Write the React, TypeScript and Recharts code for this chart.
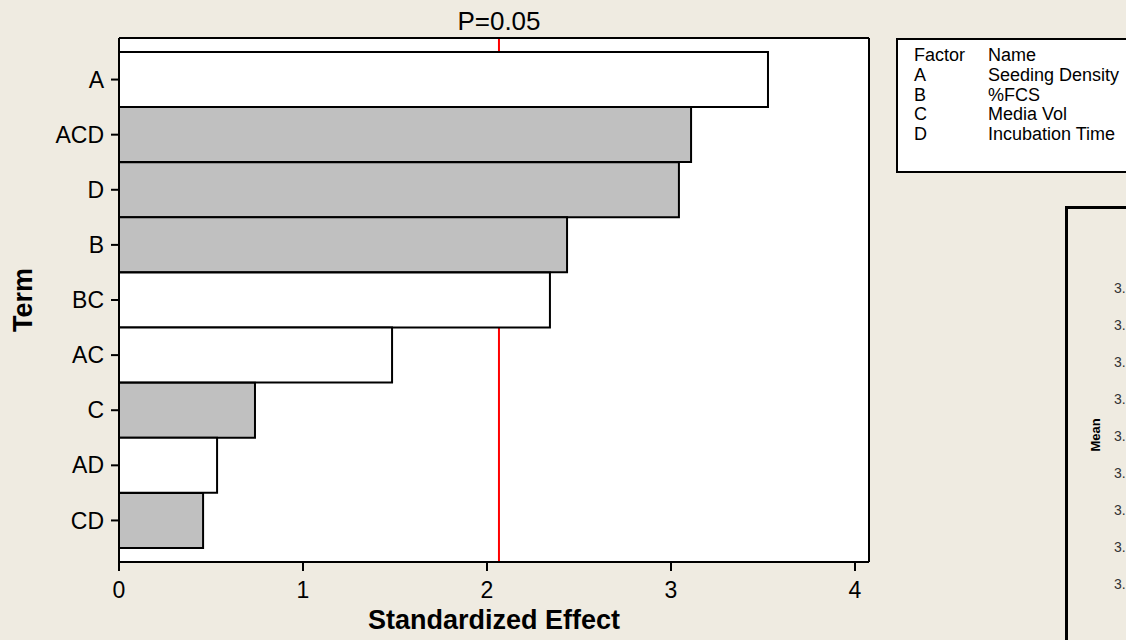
import { BarChart, Bar, XAxis, YAxis, CartesianGrid, ReferenceLine, Cell } from 'recharts';

// Pareto of standardized effects
const terms = ['A', 'ACD', 'D', 'B', 'BC', 'AC', 'C', 'AD', 'CD'];
const effects = [3.527, 3.109, 3.043, 2.435, 2.342, 1.484, 0.739, 0.533, 0.457];
// +1 / -1 sign of the effect, drawn grey / white
const effectSign = [-1, 1, 1, 1, -1, -1, 1, -1, 1];
const xTicks = [0, 1, 2, 3, 4];
const xMax = 4.076;
const pCritical = 2.065;

// factor table
const factorCodes = ['A', 'B', 'C', 'D'];
const factorNames = ['Seeding Density', '%FCS', 'Media Vol', 'Incubation Time'];

// neighbouring panel, cut off at the edge
const meanTicks = ['3.', '3.', '3.', '3.', '3.', '3.', '3.', '3.', '3.'];

const FONT = '"Liberation Sans", Arial, sans-serif';
const BG = '#EFEBE1';
const GREY = '#C0C0C0';
const AXIS = { stroke: '#000', strokeWidth: 2 };

const data = terms.map((term, i) => ({ term, effect: effects[i], sign: effectSign[i] }));

export default function App() {
  return (
    <div
      style={{
        position: 'absolute',
        left: 0,
        top: 0,
        width: 1126,
        height: 640,
        overflow: 'hidden',
        background: BG,
        fontFamily: FONT,
      }}
    >
      <BarChart
        width={1126}
        height={640}
        data={data}
        layout="vertical"
        barCategoryGap={0}
        margin={{ top: 37, right: 256, bottom: 0, left: 0 }}
      >
        {/* white plot background + the critical line, kept behind the bars */}
        <CartesianGrid
          fill="#fff"
          horizontal={false}
          vertical
          verticalValues={[pCritical]}
          stroke="#ff0000"
          strokeWidth={2}
          strokeDasharray="0"
        />
        <XAxis
          type="number"
          domain={[0, xMax]}
          ticks={xTicks}
          allowDataOverflow
          height={78}
          tickSize={9}
          tickMargin={11}
          axisLine={AXIS}
          tickLine={AXIS}
          tick={{ fill: '#000', fontSize: 23, fontFamily: FONT }}
          label={{ value: 'Standardized Effect', position: 'insideBottom', offset: 11, fill: '#000', fontSize: 27, fontWeight: 'bold', fontFamily: FONT }}
        />
        <XAxis
          xAxisId="top"
          orientation="top"
          type="number"
          domain={[0, xMax]}
          height={1}
          axisLine={AXIS}
          tick={false}
          tickLine={false}
        />
        <YAxis
          type="category"
          dataKey="term"
          width={119}
          padding={{ top: 14, bottom: 14 }}
          tickSize={8}
          tickMargin={7}
          axisLine={AXIS}
          tickLine={AXIS}
          tick={{ fill: '#000', fontSize: 23, fontFamily: FONT }}
          label={{ value: 'Term', angle: -90, position: 'insideLeft', offset: 22, fill: '#000', fontSize: 27, fontWeight: 'bold', fontFamily: FONT, style: { textAnchor: 'middle' } }}
        />
        <YAxis
          yAxisId="right"
          orientation="right"
          type="category"
          dataKey="term"
          width={1}
          axisLine={AXIS}
          tick={false}
          tickLine={false}
        />
        <ReferenceLine
          x={pCritical}
          stroke="none"
          label={{ value: 'P=0.05', position: 'top', offset: 8, fill: '#000', fontSize: 26, fontFamily: FONT }}
        />
        <Bar dataKey="effect" stroke="#000" strokeWidth={2} isAnimationActive={false}>
          {data.map((d) => (
            <Cell key={d.term} fill={d.sign > 0 ? GREY : '#fff'} />
          ))}
        </Bar>
      </BarChart>

      {/* factor legend */}
      <div
        style={{
          position: 'absolute',
          left: 896,
          top: 38,
          width: 260,
          height: 131,
          border: '2px solid #000',
          background: '#fff',
          fontSize: 18,
          lineHeight: '19.5px',
          color: '#000',
        }}
      >
        <div style={{ position: 'absolute', left: 16, top: 6 }}>Factor</div>
        <div style={{ position: 'absolute', left: 90, top: 6 }}>Name</div>
        {factorCodes.map((code, i) => (
          <div key={code}>
            <div style={{ position: 'absolute', left: 16, top: 26 + i * 19.5 }}>{code}</div>
            <div style={{ position: 'absolute', left: 90, top: 26 + i * 19.5 }}>{factorNames[i]}</div>
          </div>
        ))}
      </div>

      {/* edge of the next panel */}
      <div
        style={{
          position: 'absolute',
          left: 1065,
          top: 206,
          width: 200,
          height: 500,
          borderLeft: '3px solid #000',
          borderTop: '3px solid #000',
        }}
      />
      <div
        style={{
          position: 'absolute',
          left: 1095,
          top: 435,
          transform: 'translate(-50%, -50%) rotate(-90deg)',
          fontSize: 13,
          fontWeight: 'bold',
          color: '#000',
        }}
      >
        Mean
      </div>
      {meanTicks.map((t, i) => (
        <div
          key={i}
          style={{ position: 'absolute', left: 1114, top: 280 + i * 37, fontSize: 14, color: '#333' }}
        >
          {t}
        </div>
      ))}
    </div>
  );
}
